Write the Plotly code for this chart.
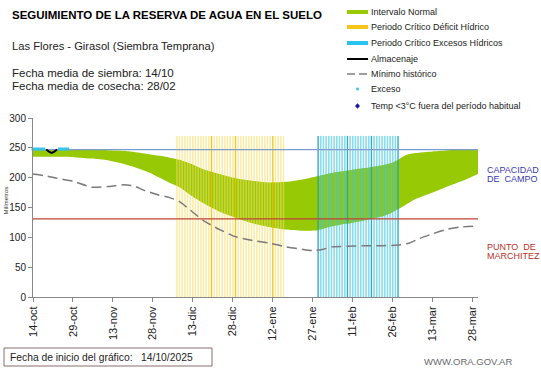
import plotly.graph_objects as go
from datetime import date

# ---------------- DATA ----------------
START_DATE = date(2025, 10, 14)
TICK_DAYS = [0, 15, 30, 45, 60, 75, 90, 105, 120, 135, 150, 165]
TICK_LABELS = ["14-oct", "29-oct", "13-nov", "28-nov", "13-dic", "28-dic",
               "12-ene", "27-ene", "11-feb", "26-feb", "13-mar", "28-mar"]
Y_TICKS = [0, 50, 100, 150, 200, 250, 300]

BAND_DAYS = [0, 10, 16, 22, 28, 34, 38, 44, 47, 51, 55, 60, 64, 70, 76, 82,
             89, 95, 101, 107, 112, 118, 124, 131, 134, 137, 140, 143, 150,
             156, 162, 167]
BAND_UPPER = [248, 248, 248, 247, 246, 245, 243, 239, 237, 234, 230, 222,
              214, 206, 199, 195, 192, 193, 197, 203, 208, 212, 216, 221,
              224, 230, 238, 241, 244, 246, 247, 247]
BAND_LOWER = [235, 235, 234, 232, 229, 223, 218, 208, 201, 192, 184, 168,
              157, 143, 133, 124, 117, 113, 111, 112, 118, 123, 128, 135,
              140, 147, 155, 163, 175, 186, 196, 206]

MIN_DAYS = [0, 5, 9, 15, 22, 28, 34, 38, 41, 47, 51, 55, 60, 64, 70, 76, 82,
            89, 95, 101, 105, 109, 112, 118, 124, 131, 137, 141, 145, 150,
            155, 160, 167]
MIN_HIST = [206, 203, 199, 194, 184, 185, 188, 186, 180, 171, 167, 160, 142,
            128, 113, 101, 95, 90, 84, 80, 78, 80, 84, 85, 86, 86, 87, 90, 98,
            106, 113, 117, 119]

ALM_DAYS = [5, 6, 7, 8, 9]
ALM_VALUES = [247, 243.5, 241.5, 243.5, 247]

EXCESO_DAYS = [0, 1, 2, 3, 4, 10, 11, 12, 13]
EXCESO_VALUES = [248, 248, 248, 248, 248, 248, 248, 248, 248]

CAPACIDAD = 247
MARCHITEZ = 131
LAST_DAY = 167

DEFICIT_START = date(2025, 12, 7)
DEFICIT_END = date(2026, 1, 16)
DEFICIT_STRONG = [date(2025, 12, 20), date(2025, 12, 29), date(2026, 1, 12)]
EXCESOS_START = date(2026, 1, 29)
EXCESOS_END = date(2026, 2, 28)
EXCESOS_STRONG = [date(2026, 1, 29), date(2026, 2, 9), date(2026, 2, 18),
                  date(2026, 2, 28)]
PERIOD_TOP = 270

TITLE = "SEGUIMIENTO DE LA RESERVA DE AGUA EN EL SUELO"
SUBTITLE = "Las Flores - Girasol (Siembra Temprana)"
SIEMBRA = "Fecha media de siembra: 14/10"
COSECHA = "Fecha media de cosecha: 28/02"
INICIO = "Fecha de inicio del gráfico:\u00a0\u00a0 14/10/2025"
WEB = "WWW.ORA.GOV.AR"
LEGEND_NAMES = ["Intervalo Normal", "Periodo Crítico Déficit Hídrico",
                "Periodo Crítico Excesos Hídricos", "Almacenaje",
                "Mínimo histórico", "Exceso",
                "Temp <3°C fuera del período habitual"]

# ---------------- LAYOUT HELPERS ----------------
W, H = 541, 368
ML, MR, MT, MB = 33, 63, 118, 71
PW, PH = W - ML - MR, H - MT - MB
FONT = "Liberation Sans, Arial, sans-serif"


def px(x):
    return (x - ML) / PW


def py(y):
    return (H - MB - y) / PH


def day(d):
    return (d - START_DATE).days


GREEN = "#97c905"
fig = go.Figure()

# Intervalo normal band
fig.add_trace(go.Scatter(x=BAND_DAYS, y=BAND_LOWER, mode="lines",
                         line=dict(width=0, color=GREEN, shape="spline", smoothing=0.5),
                         showlegend=False, hoverinfo="skip"))
fig.add_trace(go.Scatter(x=BAND_DAYS, y=BAND_UPPER, mode="lines", fill="tonexty",
                         fillcolor=GREEN,
                         line=dict(width=0, color=GREEN, shape="spline", smoothing=0.5),
                         name=LEGEND_NAMES[0], showlegend=False))


def stripes(start, end, strong, pale, dark, name):
    xs, ys, xs2, ys2 = [], [], [], []
    strong_days = set(day(s) for s in strong)
    for d in range(day(start), day(end) + 1):
        if d in strong_days:
            xs2 += [d, d, None]
            ys2 += [0, PERIOD_TOP, None]
        else:
            xs += [d, d, None]
            ys += [0, PERIOD_TOP, None]
    fig.add_trace(go.Scatter(x=xs, y=ys, mode="lines", line=dict(color=pale, width=1.6),
                             name=name, showlegend=False, hoverinfo="skip"))
    fig.add_trace(go.Scatter(x=xs2, y=ys2, mode="lines", line=dict(color=dark, width=1.4),
                             showlegend=False, hoverinfo="skip"))


stripes(DEFICIT_START, DEFICIT_END, DEFICIT_STRONG,
        "rgba(246,220,100,0.55)", "rgba(240,190,0,0.85)", LEGEND_NAMES[1])
stripes(EXCESOS_START, EXCESOS_END, EXCESOS_STRONG,
        "rgba(60,195,225,0.6)", "rgba(20,165,200,0.9)", LEGEND_NAMES[2])

# Minimo historico
fig.add_trace(go.Scatter(x=MIN_DAYS, y=MIN_HIST, mode="lines",
                         line=dict(color="#7a7a7a", width=1.5, dash="10px,5px",
                                   shape="spline", smoothing=0.5),
                         name=LEGEND_NAMES[4], showlegend=False))

# Reference lines
fig.add_trace(go.Scatter(x=[0, LAST_DAY], y=[CAPACIDAD, CAPACIDAD], mode="lines",
                         line=dict(color="#7f9ccc", width=1.2), showlegend=False))
fig.add_trace(go.Scatter(x=[0, LAST_DAY], y=[MARCHITEZ, MARCHITEZ], mode="lines",
                         line=dict(color="#c0433a", width=1.2), showlegend=False))

# Almacenaje and exceso
fig.add_trace(go.Scatter(x=ALM_DAYS, y=ALM_VALUES, mode="lines",
                         line=dict(color="black", width=2, shape="spline"),
                         name=LEGEND_NAMES[3], showlegend=False, cliponaxis=False))
fig.add_trace(go.Scatter(x=EXCESO_DAYS, y=EXCESO_VALUES, mode="markers",
                         marker=dict(color="#33c4ea", size=3, symbol="square"),
                         name=LEGEND_NAMES[5], showlegend=False, cliponaxis=False))

shapes = []
annotations = []

# Manual legend
LEG_X0, LEG_X1, LEG_TX = 347, 368, 369
LEG_Y = [12, 27, 43, 59, 74, 89, 106]
bar_colors = [GREEN, "#f5c518", "#29c5f0"]
for i in range(3):
    shapes.append(dict(type="line", xref="paper", yref="paper",
                       x0=px(LEG_X0), x1=px(LEG_X1), y0=py(LEG_Y[i]), y1=py(LEG_Y[i]),
                       line=dict(color=bar_colors[i], width=4)))
shapes.append(dict(type="line", xref="paper", yref="paper",
                   x0=px(LEG_X0), x1=px(LEG_X1), y0=py(LEG_Y[3]), y1=py(LEG_Y[3]),
                   line=dict(color="black", width=2)))
shapes.append(dict(type="line", xref="paper", yref="paper",
                   x0=px(LEG_X0), x1=px(LEG_X1), y0=py(LEG_Y[4]), y1=py(LEG_Y[4]),
                   line=dict(color="#808080", width=1.5, dash="8px,4px")))
cx = (LEG_X0 + LEG_X1) / 2
shapes.append(dict(type="rect", xref="paper", yref="paper",
                   x0=px(cx - 1.3), x1=px(cx + 1.3), y0=py(LEG_Y[5] - 1.3), y1=py(LEG_Y[5] + 1.3),
                   fillcolor="#33c4ea", line=dict(width=0)))
dy = LEG_Y[6]
shapes.append(dict(type="path", xref="paper", yref="paper",
                   path=f"M {px(cx)},{py(dy-2.8)} L {px(cx+2.5)},{py(dy)} L {px(cx)},{py(dy+2.8)} L {px(cx-2.5)},{py(dy)} Z",
                   fillcolor="#1a1aa6", line=dict(width=0)))
for i, name in enumerate(LEGEND_NAMES):
    annotations.append(dict(xref="paper", yref="paper", x=px(LEG_TX), y=py(LEG_Y[i]),
                            xanchor="left", yanchor="middle", showarrow=False, text=name,
                            font=dict(family=FONT, size=9, color="#222")))

# Titles
annotations += [
    dict(xref="paper", yref="paper", x=px(10), y=py(15), xanchor="left", yanchor="middle",
         showarrow=False, text="<b>" + TITLE + "</b>",
         font=dict(family=FONT, size=11.5, color="black")),
    dict(xref="paper", yref="paper", x=px(10), y=py(46), xanchor="left", yanchor="middle",
         showarrow=False, text=SUBTITLE, font=dict(family=FONT, size=11.2, color="#222")),
    dict(xref="paper", yref="paper", x=px(10), y=py(73), xanchor="left", yanchor="middle",
         showarrow=False, text=SIEMBRA, font=dict(family=FONT, size=11.5, color="#222")),
    dict(xref="paper", yref="paper", x=px(10), y=py(86), xanchor="left", yanchor="middle",
         showarrow=False, text=COSECHA, font=dict(family=FONT, size=11.5, color="#222")),
]

# Right labels
for txt, yy, col in [("CAPACIDAD", 170, "#3a3ab0"), ("DE\u00a0 CAMPO", 179, "#3a3ab0"),
                     ("PUNTO\u00a0 DE", 247, "#b8322a"), ("MARCHITEZ", 256, "#b8322a")]:
    annotations.append(dict(xref="paper", yref="paper", x=px(485), y=py(yy), xanchor="left",
                            yanchor="middle", showarrow=False, text=txt,
                            font=dict(family=FONT, size=9, color=col)))

# Y-axis title
annotations.append(dict(xref="paper", yref="paper", x=px(5.5), y=py(201), xanchor="center",
                        yanchor="middle", showarrow=False, text="Milímetros", textangle=-90,
                        font=dict(family=FONT, size=6, color="#333")))

# Bottom box & website
shapes.append(dict(type="rect", xref="paper", yref="paper", x0=px(4), x1=px(212),
                   y0=py(366), y1=py(348), line=dict(color="#8c6e6e", width=1)))
annotations.append(dict(xref="paper", yref="paper", x=px(8), y=py(357), xanchor="left",
                        yanchor="middle", showarrow=False, text=INICIO,
                        font=dict(family=FONT, size=10.3, color="#222")))
annotations.append(dict(xref="paper", yref="paper", x=px(468), y=py(361), xanchor="center",
                        yanchor="middle", showarrow=False, text=WEB,
                        font=dict(family=FONT, size=9.5, color="#6a6a6a")))

fig.update_layout(
    template="none",
    width=W, height=H, margin=dict(l=ML, r=MR, t=MT, b=MB, pad=0, autoexpand=False),
    paper_bgcolor="white", plot_bgcolor="white", showlegend=False,
    shapes=shapes, annotations=annotations,
    xaxis=dict(range=[0, LAST_DAY], tickvals=TICK_DAYS, ticktext=TICK_LABELS,
               tickangle=-90, showgrid=False, zeroline=False, showline=True,
               automargin=False,
               linecolor="#888", linewidth=1, ticks="outside", ticklen=4,
               tickcolor="#888", tickfont=dict(family=FONT, size=11, color="#222")),
    yaxis=dict(range=[0, 300], tickvals=Y_TICKS, showgrid=False, zeroline=False,
               showline=True, linecolor="#888", linewidth=1, ticks="outside",
               automargin=False, ticklen=4, tickcolor="#888",
               tickfont=dict(family=FONT, size=10, color="#222")),
)

fig.write_html("out.html", config={"displayModeBar": False},
               post_script="document.body.style.margin='0';document.body.style.overflow='hidden';")
